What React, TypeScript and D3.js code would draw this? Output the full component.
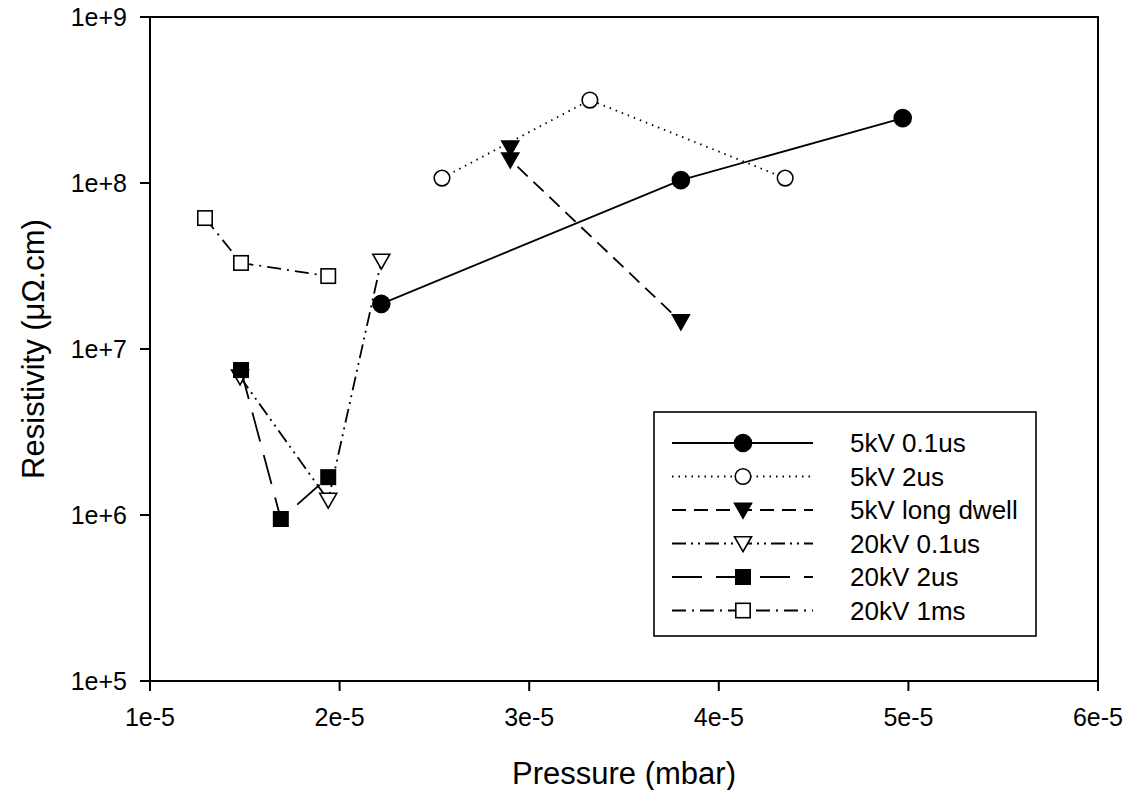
import React from "react";
import * as d3 from "d3";

// pressure (mbar) and resistivity (µΩ.cm)
const seriesNames = [
  "5kV 0.1us",
  "5kV 2us",
  "5kV long dwell",
  "20kV 0.1us",
  "20kV 2us",
  "20kV 1ms",
];

const p5kv01 = [2.22e-5, 3.8e-5, 4.97e-5];
const r5kv01 = [1.87e7, 1.04e8, 2.46e8];

const p5kv2 = [2.54e-5, 3.32e-5, 4.35e-5];
const r5kv2 = [1.07e8, 3.16e8, 1.07e8];

const p5kvLong = [2.9e-5, 2.9e-5, 3.8e-5];
const r5kvLong = [1.63e8, 1.38e8, 1.46e7];

const p20kv01 = [1.475e-5, 1.94e-5, 2.22e-5];
const r20kv01 = [6.8e6, 1.23e6, 3.39e7];

const p20kv2 = [1.48e-5, 1.69e-5, 1.94e-5];
const r20kv2 = [7.47e6, 9.46e5, 1.69e6];

const p20kv1ms = [1.29e-5, 1.48e-5, 1.94e-5];
const r20kv1ms = [6.15e7, 3.3e7, 2.75e7];

const xTicks = [1e-5, 2e-5, 3e-5, 4e-5, 5e-5, 6e-5];
const xTickLabels = ["1e-5", "2e-5", "3e-5", "4e-5", "5e-5", "6e-5"];
const yTicks = [1e5, 1e6, 1e7, 1e8, 1e9];
const yTickLabels = ["1e+5", "1e+6", "1e+7", "1e+8", "1e+9"];

const FONT = "'Liberation Sans', Arial, Helvetica, sans-serif";

type Marker = "circle" | "circleOpen" | "triDown" | "triDownOpen" | "square" | "squareOpen";

const styles: { dash: string; marker: Marker }[] = [
  { dash: "none", marker: "circle" },
  { dash: "1.5,5", marker: "circleOpen" },
  { dash: "14,8", marker: "triDown" },
  { dash: "14,5,2,5,2,5", marker: "triDownOpen" },
  { dash: "30,14", marker: "square" },
  { dash: "14,6,2,6", marker: "squareOpen" },
];

const xs = [p5kv01, p5kv2, p5kvLong, p20kv01, p20kv2, p20kv1ms];
const ys = [r5kv01, r5kv2, r5kvLong, r20kv01, r20kv2, r20kv1ms];

function MarkerShape({ type, x, y }: { type: Marker; x: number; y: number }) {
  const filled = type === "circle" || type === "triDown" || type === "square";
  const fill = filled ? "#000" : "#fff";
  if (type === "circle" || type === "circleOpen") {
    const r = filled ? 8.5 : 7.8;
    return <circle cx={x} cy={y} r={r} fill={fill} stroke="#000" strokeWidth={1.6} />;
  }
  if (type === "square" || type === "squareOpen") {
    const s = 7.2;
    return (
      <rect x={x - s} y={y - s} width={2 * s} height={2 * s} fill={fill} stroke="#000" strokeWidth={1.6} />
    );
  }
  const h = 8.5;
  const pts = `${x - h},${y - h * 0.8} ${x + h},${y - h * 0.8} ${x},${y + h * 0.95}`;
  return <polygon points={pts} fill={fill} stroke="#000" strokeWidth={1.6} strokeLinejoin="miter" />;
}

export default function App() {
  const width = 1126;
  const height = 790;
  const margin = { top: 17, right: 28, bottom: 109, left: 150 };

  const x = d3
    .scaleLinear()
    .domain([1e-5, 6e-5])
    .range([margin.left, width - margin.right]);
  const y = d3
    .scaleLog()
    .domain([1e5, 1e9])
    .range([height - margin.bottom, margin.top]);

  const line = d3
    .line<[number, number]>()
    .x((d) => x(d[0]))
    .y((d) => y(d[1]));

  const x0 = x.range()[0];
  const x1 = x.range()[1];
  const y0 = y.range()[0];
  const y1 = y.range()[1];

  const legend = { x: 654, y: 412, w: 382, h: 224, row0: 443, rowStep: 33.5 };

  return (
    <svg
      width={width}
      height={height}
      style={{ position: "absolute", left: 0, top: 0, background: "#fff" }}
      fontFamily={FONT}
    >
      <rect x={0} y={0} width={width} height={height} fill="#fff" />
      {/* frame */}
      <rect x={x0} y={y1} width={x1 - x0} height={y0 - y1} fill="none" stroke="#000" strokeWidth={2} />

      {/* x axis ticks */}
      {xTicks.map((t, i) => (
        <g key={"xt" + i}>
          <line x1={x(t)} x2={x(t)} y1={y0} y2={y0 + 10} stroke="#000" strokeWidth={2} />
          <text x={x(t)} y={y0 + 45} fontSize={25} textAnchor="middle" fill="#000">
            {xTickLabels[i]}
          </text>
        </g>
      ))}

      {/* y axis ticks */}
      {yTicks.map((t, i) => (
        <g key={"yt" + i}>
          <line x1={x0 - 10} x2={x0} y1={y(t)} y2={y(t)} stroke="#000" strokeWidth={2} />
          <text x={x0 - 23} y={y(t) + 9} fontSize={25} textAnchor="end" fill="#000">
            {yTickLabels[i]}
          </text>
        </g>
      ))}

      {/* axis titles */}
      <text x={(x0 + x1) / 2} y={784} fontSize={31} textAnchor="middle" fill="#000">
        Pressure (mbar)
      </text>
      <text
        transform={`translate(44,${(y0 + y1) / 2}) rotate(-90)`}
        fontSize={31}
        textAnchor="middle"
        fill="#000"
      >
        Resistivity (μΩ.cm)
      </text>

      {/* series */}
      {seriesNames.map((name, i) => {
        const pts = xs[i].map((v, j) => [v, ys[i][j]] as [number, number]);
        return (
          <g key={name}>
            <path
              d={line(pts) || ""}
              fill="none"
              stroke="#000"
              strokeWidth={1.8}
              strokeDasharray={styles[i].dash}
            />
            {pts.map((d, j) => (
              <MarkerShape key={j} type={styles[i].marker} x={x(d[0])} y={y(d[1])} />
            ))}
          </g>
        );
      })}

      {/* legend */}
      <rect
        x={legend.x}
        y={legend.y}
        width={legend.w}
        height={legend.h}
        fill="#fff"
        stroke="#000"
        strokeWidth={1.6}
      />
      {seriesNames.map((name, i) => {
        const ry = legend.row0 + i * legend.rowStep;
        return (
          <g key={"lg" + i}>
            <line
              x1={672}
              x2={813}
              y1={ry}
              y2={ry}
              stroke="#000"
              strokeWidth={1.8}
              strokeDasharray={styles[i].dash}
            />
            <MarkerShape type={styles[i].marker} x={743} y={ry} />
            <text x={850} y={ry + 9} fontSize={26} fill="#000">
              {name}
            </text>
          </g>
        );
      })}
    </svg>
  );
}
